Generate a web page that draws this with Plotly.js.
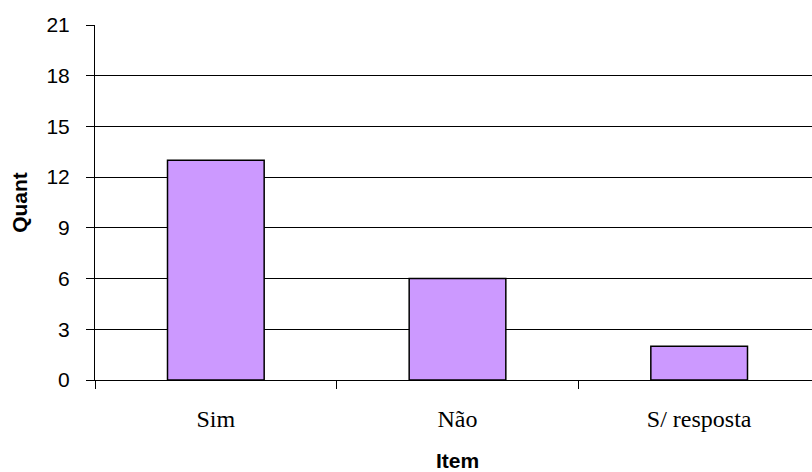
<!DOCTYPE html>
<html>
<head>
<meta charset="utf-8">
<script src="https://cdn.plot.ly/plotly-3.0.1.min.js"></script>
<style>html,body{margin:0;padding:0;overflow:hidden;background:#fff}</style>
</head>
<body>
<div id="chart"></div>
<script>
const categories = ["Sim", "Não", "S/ resposta"];
const quant = [13, 6, 2];
const yTicks = [0, 3, 6, 9, 12, 15, 18, 21];

Plotly.newPlot("chart", [{
  type: "bar",
  x: categories,
  y: quant,
  marker: {color: "#CC99FF", line: {color: "#000", width: 1.5}},
  hoverinfo: "none"
}], {
  width: 820,
  height: 472,
  margin: {l: 95, r: 0, t: 25, b: 92},
  paper_bgcolor: "#fff",
  plot_bgcolor: "#fff",
  bargap: 0.6,
  showlegend: false,
  xaxis: {
    type: "category",
    tickson: "boundaries",
    ticks: "outside",
    ticklen: 8,
    tickcolor: "#000",
    showgrid: false,
    showline: true,
    linecolor: "#000",
    linewidth: 1,
    tickfont: {family: "Liberation Serif, Times New Roman, serif", size: 24, color: "#000"},
    ticklabelstandoff: 17,
    title: {text: "<b>Item</b>", font: {family: "Liberation Sans, Arial, sans-serif", size: 21, color: "#000"}, standoff: 23}
  },
  yaxis: {
    range: [0, 21],
    tickvals: yTicks,
    ticktext: yTicks.map(String),
    ticks: "outside",
    ticklen: 8,
    tickcolor: "#000",
    showgrid: true,
    gridcolor: "#000",
    gridwidth: 1,
    showline: true,
    linecolor: "#000",
    linewidth: 1,
    zeroline: false,
    tickfont: {family: "Liberation Sans, Arial, sans-serif", size: 21, color: "#000"},
    ticklabelstandoff: 12,
    title: {text: "<b>Quant</b>", font: {family: "Liberation Sans, Arial, sans-serif", size: 21, color: "#000"}, standoff: 13}
  }
}, {displayModeBar: false, staticPlot: true});
</script>
</body>
</html>
